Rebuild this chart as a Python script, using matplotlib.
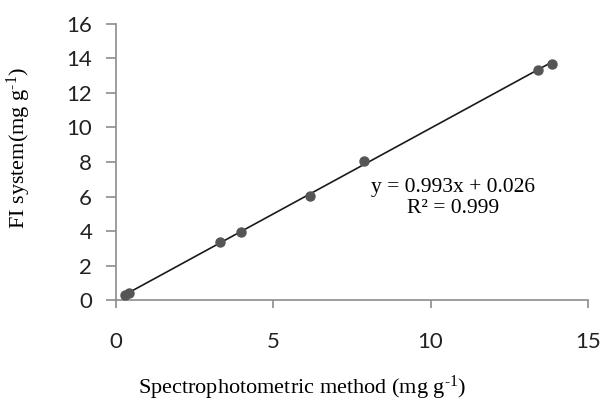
import matplotlib
matplotlib.use('Agg')
import matplotlib.pyplot as plt
import numpy as np

# spectrophotometric method vs FI system (mg g-1)
spec_x = [0.29, 0.42, 3.31, 3.98, 6.18, 7.88, 13.40, 13.86]
fi_y = [0.29, 0.42, 3.38, 3.96, 6.03, 8.06, 13.33, 13.66]
slope = 0.993
intercept = 0.026
x_ticks = [0, 5, 10, 15]
y_ticks = [0, 2, 4, 6, 8, 10, 12, 14, 16]

plt.rcParams['mathtext.fontset'] = 'custom'
plt.rcParams['mathtext.rm'] = 'Liberation Serif'
plt.rcParams['mathtext.it'] = 'Liberation Serif'

fig = plt.figure(figsize=(6.03, 4.04), dpi=100)
ax = fig.add_axes([0.192, 0.257, 0.783, 0.684])

ax.plot(spec_x, fi_y, 'o', color='#555555', markersize=6.5, zorder=3)
xs = np.array([min(spec_x), max(spec_x)])
ax.plot(xs, slope * xs + intercept, '-', color='#1a1a1a', linewidth=1.2, zorder=2)

ax.set_xlim(0, 15)
ax.set_ylim(0, 16)
ax.set_xticks(x_ticks)
ax.set_yticks(y_ticks)
for s in ['top', 'right']:
    ax.spines[s].set_visible(False)
for s in ['left', 'bottom']:
    ax.spines[s].set_color('#8c8c8c')
    ax.spines[s].set_linewidth(1.2)
ax.tick_params(axis='x', length=6, width=1.2, color='#8c8c8c', pad=17)
ax.tick_params(axis='y', length=7, width=1.2, color='#8c8c8c', pad=10)
for lab in ax.get_xticklabels() + ax.get_yticklabels():
    lab.set_fontfamily('Lato')
    lab.set_fontsize(16)
    lab.set_color('#222222')

ax.set_xlabel(r'Spectrophotometric method (mg g$^{\text{-1}}$)', family='Liberation Serif',
              fontsize=16)
ax.set_ylabel(r'FI system(mg g$^{\text{-1}}$)', family='Liberation Serif', fontsize=16)
ax.xaxis.set_label_coords(0.394, -0.265)
ax.yaxis.set_label_coords(-0.175, 0.55)
ax.text(10.7, 5.9, 'y = 0.993x + 0.026\nR² = 0.999', family='Liberation Serif',
        fontsize=15.5, ha='center', va='center', linespacing=1.15)

fig.savefig('out.png', dpi=100)
